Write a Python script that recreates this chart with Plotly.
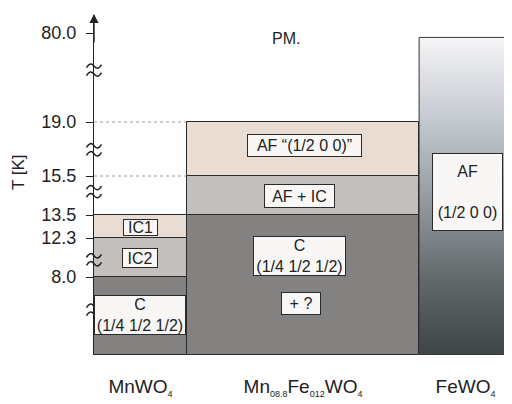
import numpy as np
import plotly.graph_objects as go

# ---------------- data ----------------
compounds = ["MnWO<sub><span style='font-size:9px'>4</span></sub>",
             "Mn<sub><span style='font-size:9px'>08.8</span></sub>Fe<sub><span style='font-size:9px'>012</span></sub>WO<sub><span style='font-size:9px'>4</span></sub>",
             "FeWO<sub><span style='font-size:9px'>4</span></sub>"]
col_left = [0.0, 1.0, 3.5]
col_width = [1.0, 2.5, 1.0]

# phase layers: (compound index, T low, T high, colour)
layer_comp = [0, 0, 0, 1, 1, 1]
layer_lo = [0.0, 8.0, 12.3, 0.0, 13.5, 15.5]
layer_hi = [8.0, 12.3, 13.5, 13.5, 15.5, 19.0]
layer_col = ["#838281", "#c2bfbc", "#e9dcd3", "#838281", "#c2bfbc", "#e9dcd3"]
fe_TN = 77.0

tick_T = [8.0, 12.3, 13.5, 15.5, 19.0, 80.0]
tick_labels = ["8.0", "12.3", "13.5", "15.5", "19.0", "80.0"]

# broken temperature axis: knots of the piecewise scale
knot_T = [0.0, 8.0, 12.3, 13.5, 15.5, 19.0, 80.0]
knot_pos = [0, 78, 117, 140, 179, 233, 322]
break_T = [4.6, 9.9, 14.7, 17.2, 54.6]

# phase labels: (compound, x shift, T position, text, box w, box h)
lab_comp = [0, 0, 0, 1, 1, 1, 1, 2]
lab_dx = [0.0, 0.0, -0.01, 0.02, -0.04, -0.04, -0.02, 0.02]
lab_T = [12.85, 10.1, 4.1, 17.5, 14.5, 10.3, 5.3, 14.7]
lab_text = ["IC1", "IC2", "C<br>(1/4 1/2 1/2)", "AF \u201c(1/2 0 0)\u201d", "AF + IC",
            "C<br>(1/4 1/2 1/2)", "+ ?", "AF<br><br>(1/2 0 0)"]
lab_w = [33, 34, 90, 113, 69, 91, 38, 69]
lab_h = [15, 18, 38, 21, 22, 38, 21, 76]


def ypos(T):
    return float(np.interp(T, knot_T, knot_pos))


FONT = "Liberation Sans, Arial, Helvetica, sans-serif"
INK = "#222222"
PLOT_W = 418.0  # plot-area width in px (for paper-unit conversions)

fig = go.Figure()

# stacked phase layers
for c, lo, hi, col in zip(layer_comp, layer_lo, layer_hi, layer_col):
    fig.add_trace(go.Bar(
        x=[col_left[c] + col_width[c] / 2], y=[ypos(hi) - ypos(lo)], base=[ypos(lo)],
        width=[col_width[c]], marker=dict(color=col, line=dict(color="#2a2a2a", width=1)),
        hoverinfo="skip", showlegend=False))

# FeWO4 column with vertical gradient
xl, w = col_left[2], col_width[2]
fig.add_trace(go.Scatter(
    x=[xl, xl + w, xl + w, xl, xl], y=[0, 0, ypos(fe_TN), ypos(fe_TN), 0],
    mode="lines", fill="toself", line=dict(color="#333333", width=1),
    fillgradient=dict(type="vertical",
                      colorscale=[[0, "#3c4445"], [0.25, "#646b6d"], [0.5, "#979ca3"],
                                  [0.75, "#c6cad1"], [1, "#f5f5f7"]]),
    hoverinfo="skip", showlegend=False))

# dotted guide lines
for T in [19.0, 15.5]:
    fig.add_shape(type="line", x0=0, x1=col_left[1], y0=ypos(T), y1=ypos(T),
                  line=dict(color="#9a9a9a", width=1, dash="dot"), layer="below")

# phase label boxes
for c, dx, T, txt, bw, bh in zip(lab_comp, lab_dx, lab_T, lab_text, lab_w, lab_h):
    fig.add_annotation(x=col_left[c] + col_width[c] / 2 + dx, y=ypos(T), text=txt,
                       showarrow=False, width=bw, height=bh, borderpad=0,
                       bgcolor="#f8f7f5", bordercolor="#2a2a2a", borderwidth=1,
                       font=dict(family=FONT, size=16, color=INK), align="center")


# axis break marks (two stacked tildes on the axis)
def px(v):
    return v / PLOT_W


for T in break_T:
    yc = ypos(T)
    for off in (4.0, -4.0):
        y0 = yc + off
        path = (f"M {px(-7.5)},{y0 - 1.5} Q {px(-3.75)},{y0 + 5} 0,{y0} "
                f"Q {px(3.75)},{y0 - 5} {px(7.5)},{y0 + 1.5}")
        fig.add_shape(type="path", xref="paper", yref="y", path=path,
                      line=dict(color=INK, width=1.5))

# axis arrows
fig.add_annotation(xref="paper", yref="paper", x=0, y=1.003, ax=0, ay=30, text="",
                   showarrow=True, arrowhead=2, arrowsize=1.3, arrowwidth=1.4, arrowcolor=INK)
fig.add_shape(type="path", xref="paper", yref="paper",
              path=f"M {px(412)},{(355 - 23) / 340} L {px(416)},{(355 - 16) / 340} "
                   f"L {px(420)},{(355 - 23) / 340} Z",
              fillcolor=INK, line=dict(color=INK, width=1))

# PM label and axis title
fig.add_annotation(xref="paper", yref="paper", x=(286 - 94) / PLOT_W, y=(355 - 39) / 340,
                   xanchor="center", yanchor="middle",
                   text="PM.", showarrow=False, font=dict(family=FONT, size=16, color=INK))
fig.add_annotation(xref="paper", yref="paper", x=(18 - 94) / PLOT_W, y=(355 - 172) / 340,
                   xanchor="center", yanchor="middle",
                   text="T [K]", textangle=-90, showarrow=False,
                   font=dict(family=FONT, size=17, color=INK))

# the page body adds an 8px offset, so the figure is 8px smaller and margins shifted
fig.update_layout(
    width=504, height=396, margin=dict(l=86, r=0, t=7, b=49),
    paper_bgcolor="white", plot_bgcolor="white", barmode="overlay", bargap=0,
    showlegend=False,
    xaxis=dict(range=[0, 4.5], showgrid=False, zeroline=False, showline=False,
               tickvals=[col_left[i] + col_width[i] / 2 for i in range(3)],
               ticktext=compounds, ticks="", ticklabelstandoff=18,
               tickfont=dict(family=FONT, size=19, color=INK)),
    yaxis=dict(range=[0, 340], showgrid=False, zeroline=False, showline=True,
               linecolor=INK, linewidth=1.4, ticks="outside", ticklen=7, tickcolor=INK,
               tickwidth=1.2, tickvals=[ypos(t) for t in tick_T], ticktext=tick_labels,
               ticklabelstandoff=6, tickfont=dict(family=FONT, size=18, color=INK)),
)

fig.write_html("out.html")
